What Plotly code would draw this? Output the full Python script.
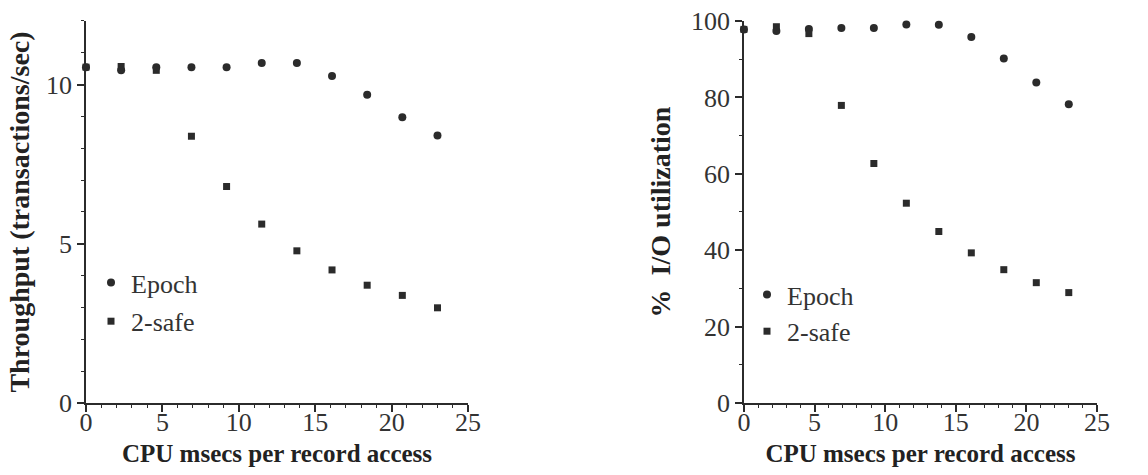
import plotly.graph_objects as go

# CPU time per record access (msec)
cpu_msecs = [0, 2.3, 4.6, 6.9, 9.2, 11.5, 13.8, 16.1, 18.4, 20.7, 23.0]

# Throughput (transactions/sec)
thr_epoch = [10.55, 10.45, 10.55, 10.55, 10.55, 10.68, 10.68, 10.27, 9.68, 8.98, 8.4]
thr_2safe = [10.55, 10.57, 10.45, 8.38, 6.8, 5.62, 4.78, 4.18, 3.7, 3.38, 2.99]

# I/O utilization (%)
io_epoch = [97.8, 97.4, 97.9, 98.2, 98.2, 99.1, 99.0, 95.8, 90.2, 83.9, 78.2]
io_2safe = [97.8, 98.5, 96.7, 77.9, 62.7, 52.3, 44.9, 39.3, 34.9, 31.5, 28.9]

series_names = ["Epoch", "2-safe"]

INK = "#2b2b2b"
SERIF = "Liberation Serif, Times New Roman, serif"

fig = go.Figure()

panels = [
    ("x", "y", "legend", thr_epoch, thr_2safe),
    ("x2", "y2", "legend2", io_epoch, io_2safe),
]
for xa, ya, lg, ep, ts in panels:
    fig.add_trace(go.Scatter(
        x=cpu_msecs, y=ep, mode="markers", name=series_names[0],
        xaxis=xa, yaxis=ya, legend=lg, legendgroup="a", cliponaxis=False,
        marker=dict(symbol="circle", size=8, color=INK),
    ))
    fig.add_trace(go.Scatter(
        x=cpu_msecs, y=ts, mode="markers", name=series_names[1],
        xaxis=xa, yaxis=ya, legend=lg, legendgroup="b", cliponaxis=False,
        marker=dict(symbol="square", size=7, color=INK),
    ))

tick_font = dict(family=SERIF, size=26, color="#333")
xtitle_font = dict(family=SERIF, size=25, color="#222")
ytitle_font = dict(family=SERIF, size=28, color="#222")
legend_font = dict(family=SERIF, size=26, color="#333")

x_common = dict(
    range=[0, 25], tickvals=[0, 5, 10, 15, 20, 25],
    showline=True, linecolor=INK, linewidth=1.5,
    ticks="outside", ticklen=7, tickwidth=1.5, tickcolor=INK,
    minor=dict(dtick=1, ticks="outside", ticklen=3, tickwidth=1.2, tickcolor=INK),
    showgrid=False, zeroline=False, tickfont=tick_font, automargin=False,
    ticklabelstandoff=-12,
    title=dict(text="<b>CPU msecs per record access</b>", font=xtitle_font, standoff=9),
)
y_common = dict(
    showline=True, linecolor=INK, linewidth=1.5,
    ticks="outside", ticklen=7, tickwidth=1.5, tickcolor=INK,
    showgrid=False, zeroline=False, tickfont=tick_font, automargin=False,
)

fig.update_layout(
    width=1148, height=475,
    margin=dict(l=0, r=0, t=0, b=0),
    paper_bgcolor="white", plot_bgcolor="white",
    font=dict(family=SERIF, color="#333"),
    xaxis=dict(domain=[0.0749, 0.4077], anchor="y", **x_common),
    xaxis2=dict(domain=[0.648, 0.9556], anchor="y2", **x_common),
    yaxis=dict(
        domain=[0.1516, 0.9558], anchor="x", range=[0, 12],
        tickvals=[0, 5, 10],
        minor=dict(dtick=1, ticks="outside", ticklen=3, tickwidth=1.2, tickcolor=INK),
        title=dict(text="<b>Throughput (transactions/sec)</b>", font=ytitle_font, standoff=8),
        **y_common,
    ),
    yaxis2=dict(
        domain=[0.1516, 0.9558], anchor="x2", range=[0, 100],
        tickvals=[0, 20, 40, 60, 80, 100],
        minor=dict(dtick=10, ticks="outside", ticklen=3, tickwidth=1.2, tickcolor=INK),
        title=dict(text="<b>%  I/O utilization</b>", font=ytitle_font, standoff=12),
        **y_common,
    ),
    legend=dict(
        x=91 / 1148, y=1 - 259 / 475, xanchor="left", yanchor="top",
        bgcolor="rgba(0,0,0,0)", font=legend_font,
        itemwidth=30, tracegroupgap=2,
    ),
    legend2=dict(
        x=747 / 1148, y=1 - 271 / 475, xanchor="left", yanchor="top",
        bgcolor="rgba(0,0,0,0)", font=legend_font,
        itemwidth=30, tracegroupgap=0,
    ),
    showlegend=True,
)

fig.write_html("out.html")
